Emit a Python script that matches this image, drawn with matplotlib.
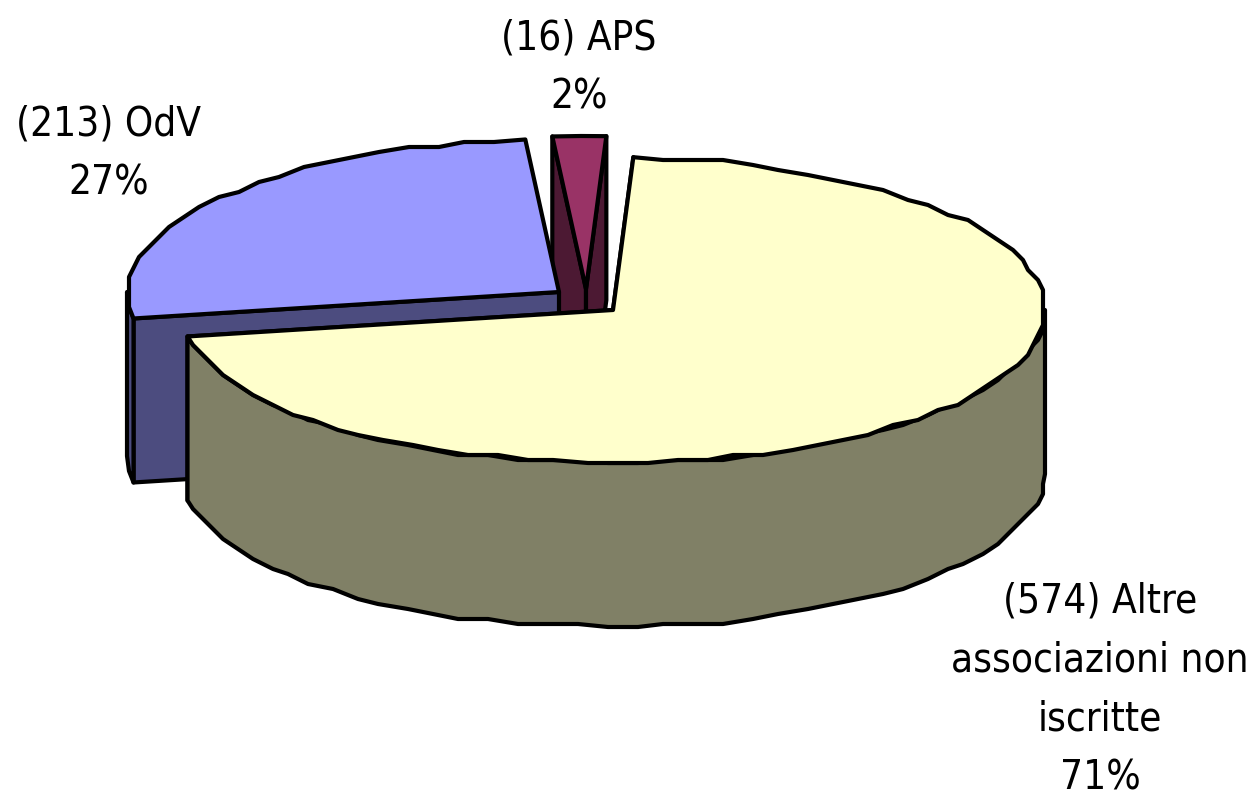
import numpy as np
import matplotlib
matplotlib.use("Agg")
import matplotlib.pyplot as plt
from matplotlib.patches import Polygon

# data
names = ["Altre\nassociazioni non\niscritte", "OdV", "APS"]
counts = [574, 213, 16]

# styles / layout (pixel space of the figure)
tops = ["#FFFFCC", "#9999FF", "#993366"]
sides = ["#808066", "#4C4C7F", "#4C1933"]
apexes = [(613, 310), (559, 292), (586, 289)]
label_pos = [(1100, 690), (109, 154), (579, 68)]
RX, RY, DEPTH = 432, 153, 164
START = 2.7
GRID = 5.0
LW = 3.0

fig = plt.figure(figsize=(12.52, 7.98), dpi=100)
ax = fig.add_axes([0, 0, 1, 1])
ax.set_xlim(0, 1252)
ax.set_ylim(798, 0)
ax.axis("off")


def rim(apex, a0, a1, step=4.0):
    """Outer rim points, coarsely quantised like the low-resolution original."""
    n = max(int(round((a1 - a0) / step)), 1)
    t = np.radians(np.linspace(a0, a1, n + 1))
    dx = RX * np.sin(t)
    dy = -RY * np.cos(t)
    dx[1:-1] = np.clip(np.round(dx[1:-1] / GRID) * GRID, -RX, RX)
    dy[1:-1] = np.clip(np.round(dy[1:-1] / GRID) * GRID, -RY, RY)
    return np.column_stack([apex[0] + dx, apex[1] + dy])


def poly(pts, color, z):
    ax.add_patch(Polygon(pts, closed=True, facecolor=color, edgecolor="black",
                         linewidth=LW, joinstyle="round", zorder=z))


def down(pts):
    return pts + np.array([0, DEPTH])


total = sum(counts)
spans = np.array(counts) / total * 360
starts = START + np.concatenate([[0], np.cumsum(spans)[:-1]])
z = 1
# draw back to front: APS, OdV, then the large slice
for i in [2, 1, 0]:
    apex = np.array(apexes[i], float)
    a0, a1 = starts[i], starts[i] + spans[i]
    top = rim(apex, a0, a1)
    # cut faces that look towards the viewer
    for edge in (top[0], top[-1]):
        if i == 1 and edge[0] > apex[0] - 100:
            continue  # the far cut face of OdV is hidden behind its own top
        poly(np.array([apex, edge, down(edge), down(apex)]), sides[i], z)
        z += 1
    # outer curved wall: only the part of the rim facing the viewer
    lo, hi = max(a0, 90), min(a1, 270)
    if hi > lo:
        arc = rim(apex, lo, hi)
        poly(np.vstack([arc, down(arc)[::-1]]), sides[i], z)
        z += 1
    poly(np.vstack([apex, top]), tops[i], z)
    z += 1

for name, n, (x, y) in zip(names, counts, label_pos):
    ax.text(x, y, f"({n}) {name}\n{n / total * 100:.0f}%", ha="center", va="center",
            fontsize=29, family="DejaVu Sans", stretch="condensed",
            color="black", linespacing=1.62, zorder=50)

fig.savefig("out.png", dpi=100)
